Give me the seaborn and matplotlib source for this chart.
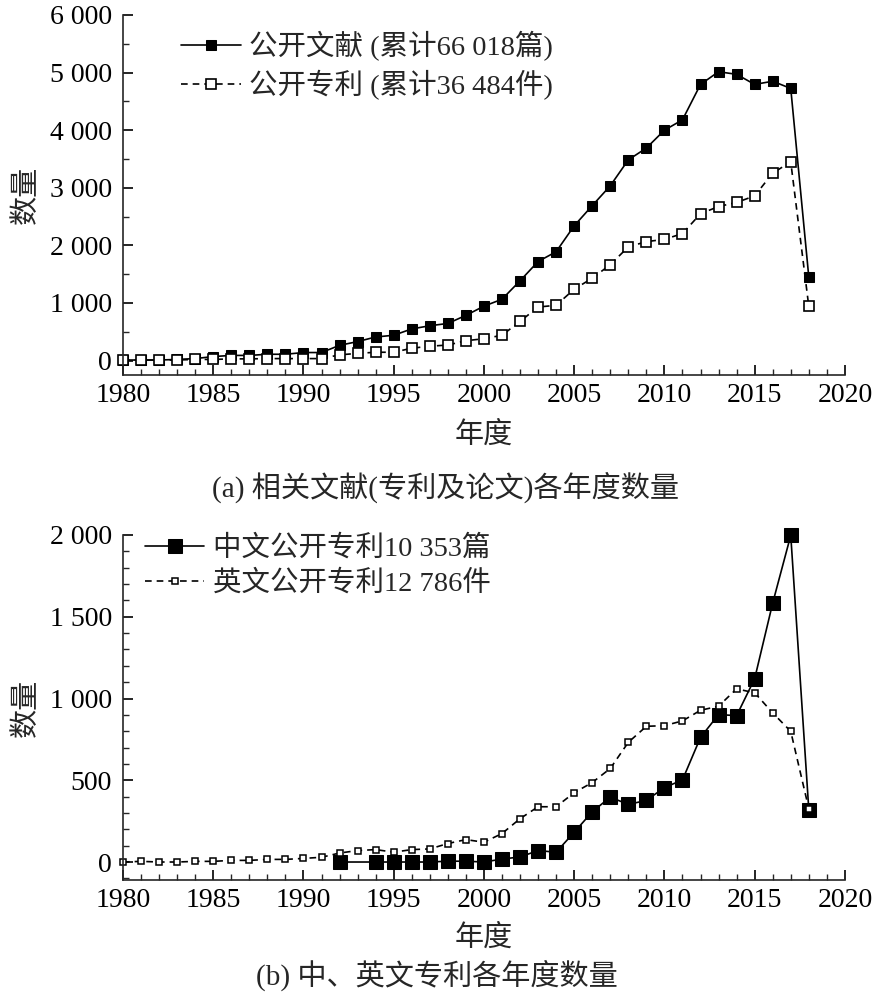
import matplotlib
matplotlib.use("Agg")
import matplotlib.pyplot as plt
import matplotlib.ticker as mticker
import seaborn as sns

# (a) yearly counts 1980-2018
years_a = list(range(1980, 2019))
papers = [10, 10, 10, 20, 35, 70, 90, 90, 110, 110,
          140, 140, 265, 330, 410, 440, 550, 605, 645, 785,
          945, 1065, 1385, 1720, 1890, 2340, 2690, 3035, 3485, 3690,
          4000, 4180, 4795, 5015, 4970, 4795, 4850, 4725, 1450]
patents = [10, 10, 10, 10, 20, 20, 30, 30, 35, 35,
           35, 35, 100, 125, 145, 145, 215, 250, 270, 345,
           380, 440, 680, 930, 960, 1240, 1430, 1665, 1975, 2065,
           2105, 2205, 2550, 2675, 2745, 2860, 3255, 3450, 940]

# (b) chinese / english patents
years_cn = [1992] + list(range(1994, 2019))
cn_patents = [0, 0, 0, 0, 0, 5, 5, 0, 18, 31,
              70, 60, 182, 307, 397, 352, 377, 455, 502, 762,
              902, 895, 1121, 1584, 1998, 320]
years_en = list(range(1980, 2019))
en_patents = [0, 4, 0, 0, 4, 4, 10, 10, 16, 16,
              22, 29, 55, 70, 76, 60, 76, 80, 113, 137,
              121, 174, 265, 338, 338, 424, 486, 572, 732, 830,
              834, 863, 928, 953, 1059, 1035, 912, 799, 326]

label_a1 = "公开文献 (累计66 018篇)"
label_a2 = "公开专利 (累计36 484件)"
label_b1 = "中文公开专利10 353篇"
label_b2 = "英文公开专利12 786件"

sns.set_style("ticks")
plt.rcParams["font.family"] = ["Liberation Serif", "Noto Sans CJK SC"]
plt.rcParams["axes.linewidth"] = 1.2

FS = 20


def fmt(v, pos):
    return "{:,}".format(int(v)).replace(",", " ")


def style_axis(ax, ymin, ymax, ystep, yminor):
    sns.despine(ax=ax)
    ax.set_xlim(1980, 2020)
    ax.set_ylim(ymin, ymax)
    ax.xaxis.set_major_locator(mticker.MultipleLocator(5))
    ax.xaxis.set_minor_locator(mticker.MultipleLocator(1))
    ax.yaxis.set_major_locator(mticker.MultipleLocator(ystep))
    ax.yaxis.set_minor_locator(mticker.MultipleLocator(yminor))
    ax.yaxis.set_major_formatter(mticker.FuncFormatter(fmt))
    ax.tick_params(which="major", direction="in", length=7, width=1.2,
                   labelsize=FS, colors="black")
    ax.tick_params(axis="y", which="major", pad=8)
    ax.tick_params(axis="x", which="major", pad=6)
    ax.tick_params(which="minor", direction="in", length=4, width=1.0)
    ax.set_xlabel("年度", fontsize=FS + 1)
    ax.set_ylabel("数量", fontsize=FS + 1)
    ax.xaxis.set_label_coords(0.5, -0.13)
    ax.yaxis.set_label_coords(-0.115, 0.5)


fig = plt.figure(figsize=(8.74, 10), dpi=100)
ax1 = fig.add_axes([0.1407, 0.625, 0.826, 0.36])
ax2 = fig.add_axes([0.1407, 0.12, 0.826, 0.345])

sns.lineplot(x=years_a, y=papers, ax=ax1, color="black", linewidth=1.2,
             marker="s", markersize=7.5, markerfacecolor="black",
             markeredgecolor="black", label=label_a1, clip_on=False)
sns.lineplot(x=years_a, y=patents, ax=ax1, color="black", linewidth=1.2,
             linestyle=(0, (4, 3)), marker="s", markersize=7,
             markerfacecolor="white", markeredgecolor="black",
             markeredgewidth=1.2, label=label_a2, clip_on=False)
style_axis(ax1, -250, 6000, 1000, 500)
ax1.legend(loc="upper left", bbox_to_anchor=(0.08, 0.955), frameon=False,
           fontsize=FS + 0.5, handlelength=2.1, handletextpad=0.3,
           borderaxespad=0, borderpad=0, labelspacing=0.3)

sns.lineplot(x=years_cn, y=cn_patents, ax=ax2, color="black", linewidth=1.2,
             marker="s", markersize=9.5, markerfacecolor="black",
             markeredgecolor="black", label=label_b1, clip_on=False)
sns.lineplot(x=years_en, y=en_patents, ax=ax2, color="black", linewidth=1.2,
             linestyle=(0, (4, 3)), marker="s", markersize=5,
             markerfacecolor="white", markeredgecolor="black",
             markeredgewidth=1.1, label=label_b2, clip_on=False)
style_axis(ax2, -110, 2000, 500, 100)
ax2.legend(loc="upper left", bbox_to_anchor=(0.03, 1.0), frameon=False,
           fontsize=FS + 0.5, handlelength=2.1, handletextpad=0.3,
           borderaxespad=0, borderpad=0, labelspacing=0.3)

fig.text(446 / 874, 1 - 487 / 1000, "(a) 相关文献(专利及论文)各年度数量",
         ha="center", va="center", fontsize=FS + 1)
fig.text(437 / 874, 1 - 975 / 1000, "(b) 中、英文专利各年度数量",
         ha="center", va="center", fontsize=FS + 1)

fig.savefig("out.png", dpi=100)
